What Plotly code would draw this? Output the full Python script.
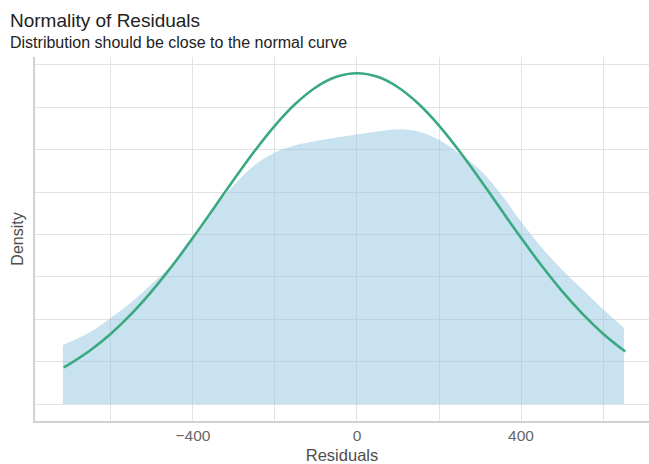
import plotly.graph_objects as go

# Kernel density of residuals, density units
dens_x = [-717, -650, -600, -550, -500, -450, -400, -350, -300, -250, -200, -150,
          -100, -50, 0, 50, 100, 150, 200, 250, 300, 350, 400, 450, 500, 550, 600, 651]
dens_y = [2.09e-4, 2.55e-4, 3.05e-4, 3.60e-4, 4.25e-4, 4.95e-4, 5.95e-4, 6.90e-4,
          7.75e-4, 8.45e-4, 8.90e-4, 9.15e-4, 9.30e-4, 9.43e-4, 9.53e-4, 9.64e-4,
          9.72e-4, 9.64e-4, 9.35e-4, 8.85e-4, 8.28e-4, 7.45e-4, 6.45e-4, 5.55e-4,
          4.75e-4, 4.05e-4, 3.35e-4, 2.69e-4]

# Normal reference curve
norm_x = [-715, -700, -650, -600, -550, -500, -450, -400, -350, -300, -250, -200, -150,
          -100, -50, 0, 50, 100, 150, 200, 250, 300, 350, 400, 450, 500, 550, 600, 650, 654]
norm_y = [1.299e-4, 1.422e-4, 1.902e-4, 2.488e-4, 3.187e-4, 3.993e-4, 4.898e-4, 5.880e-4,
          6.908e-4, 7.945e-4, 8.943e-4, 9.851e-4, 1.0620e-3, 1.1207e-3, 1.1574e-3, 1.1699e-3,
          1.1574e-3, 1.1207e-3, 1.0620e-3, 9.851e-4, 8.943e-4, 7.945e-4, 6.908e-4, 5.880e-4,
          4.898e-4, 3.993e-4, 3.187e-4, 2.488e-4, 1.902e-4, 1.859e-4]

x_tickvals = [-600, -400, -200, 0, 200, 400, 600]
x_ticktext = ["", "\u2212400", "", "0", "", "400", ""]

TITLE = "Normality of Residuals"
SUBTITLE = "Distribution should be close to the normal curve"

fig = go.Figure()
fig.add_trace(go.Scatter(
    x=dens_x, y=dens_y, mode="lines", line=dict(width=0, shape="spline", smoothing=1.0),
    fill="tozeroy", fillcolor="rgba(135,190,222,0.45)", hoverinfo="skip", showlegend=False))
fig.add_trace(go.Scatter(
    x=norm_x, y=norm_y, mode="lines", line=dict(color="#3aa982", width=2.6, shape="spline", smoothing=0.8),
    showlegend=False))

FONT = "Liberation Sans, Arial, sans-serif"
fig.update_layout(
    width=649, height=464,
    margin=dict(l=35, r=0, t=57, b=43),
    paper_bgcolor="white", plot_bgcolor="white",
    font=dict(family=FONT, color="#4d4d4d"),
    xaxis=dict(range=[-785, 712], tickvals=x_tickvals, ticktext=x_ticktext,
               showgrid=True, gridcolor="#e3e3e3", gridwidth=1.2, zeroline=False,
               showline=True, linecolor="#d0d0d0", linewidth=1.5, ticks="",
               tickfont=dict(size=15.5, color="#666666"),
               title=dict(text="Residuals", font=dict(size=16.5, color="#4d4d4d"), standoff=7)),
    yaxis=dict(range=[-6.01e-5, 1.2276e-3], tick0=0, dtick=1.5e-4, showticklabels=False,
               showgrid=True, gridcolor="#e3e3e3", gridwidth=1.2, zeroline=False,
               showline=True, linecolor="#d0d0d0", linewidth=1.5, ticks="",
               title=dict(text="Density", font=dict(size=16, color="#4d4d4d"), standoff=6)),
    annotations=[
        dict(text=TITLE, xref="paper", yref="paper", x=-0.044, y=1.099, xanchor="left",
             yanchor="middle", showarrow=False, font=dict(size=19, color="#222222", family=FONT)),
        dict(text=SUBTITLE, xref="paper", yref="paper", x=-0.044, y=1.040, xanchor="left",
             yanchor="middle", showarrow=False, font=dict(size=16, color="#222222", family=FONT)),
    ],
)

fig.write_html("out.html")
